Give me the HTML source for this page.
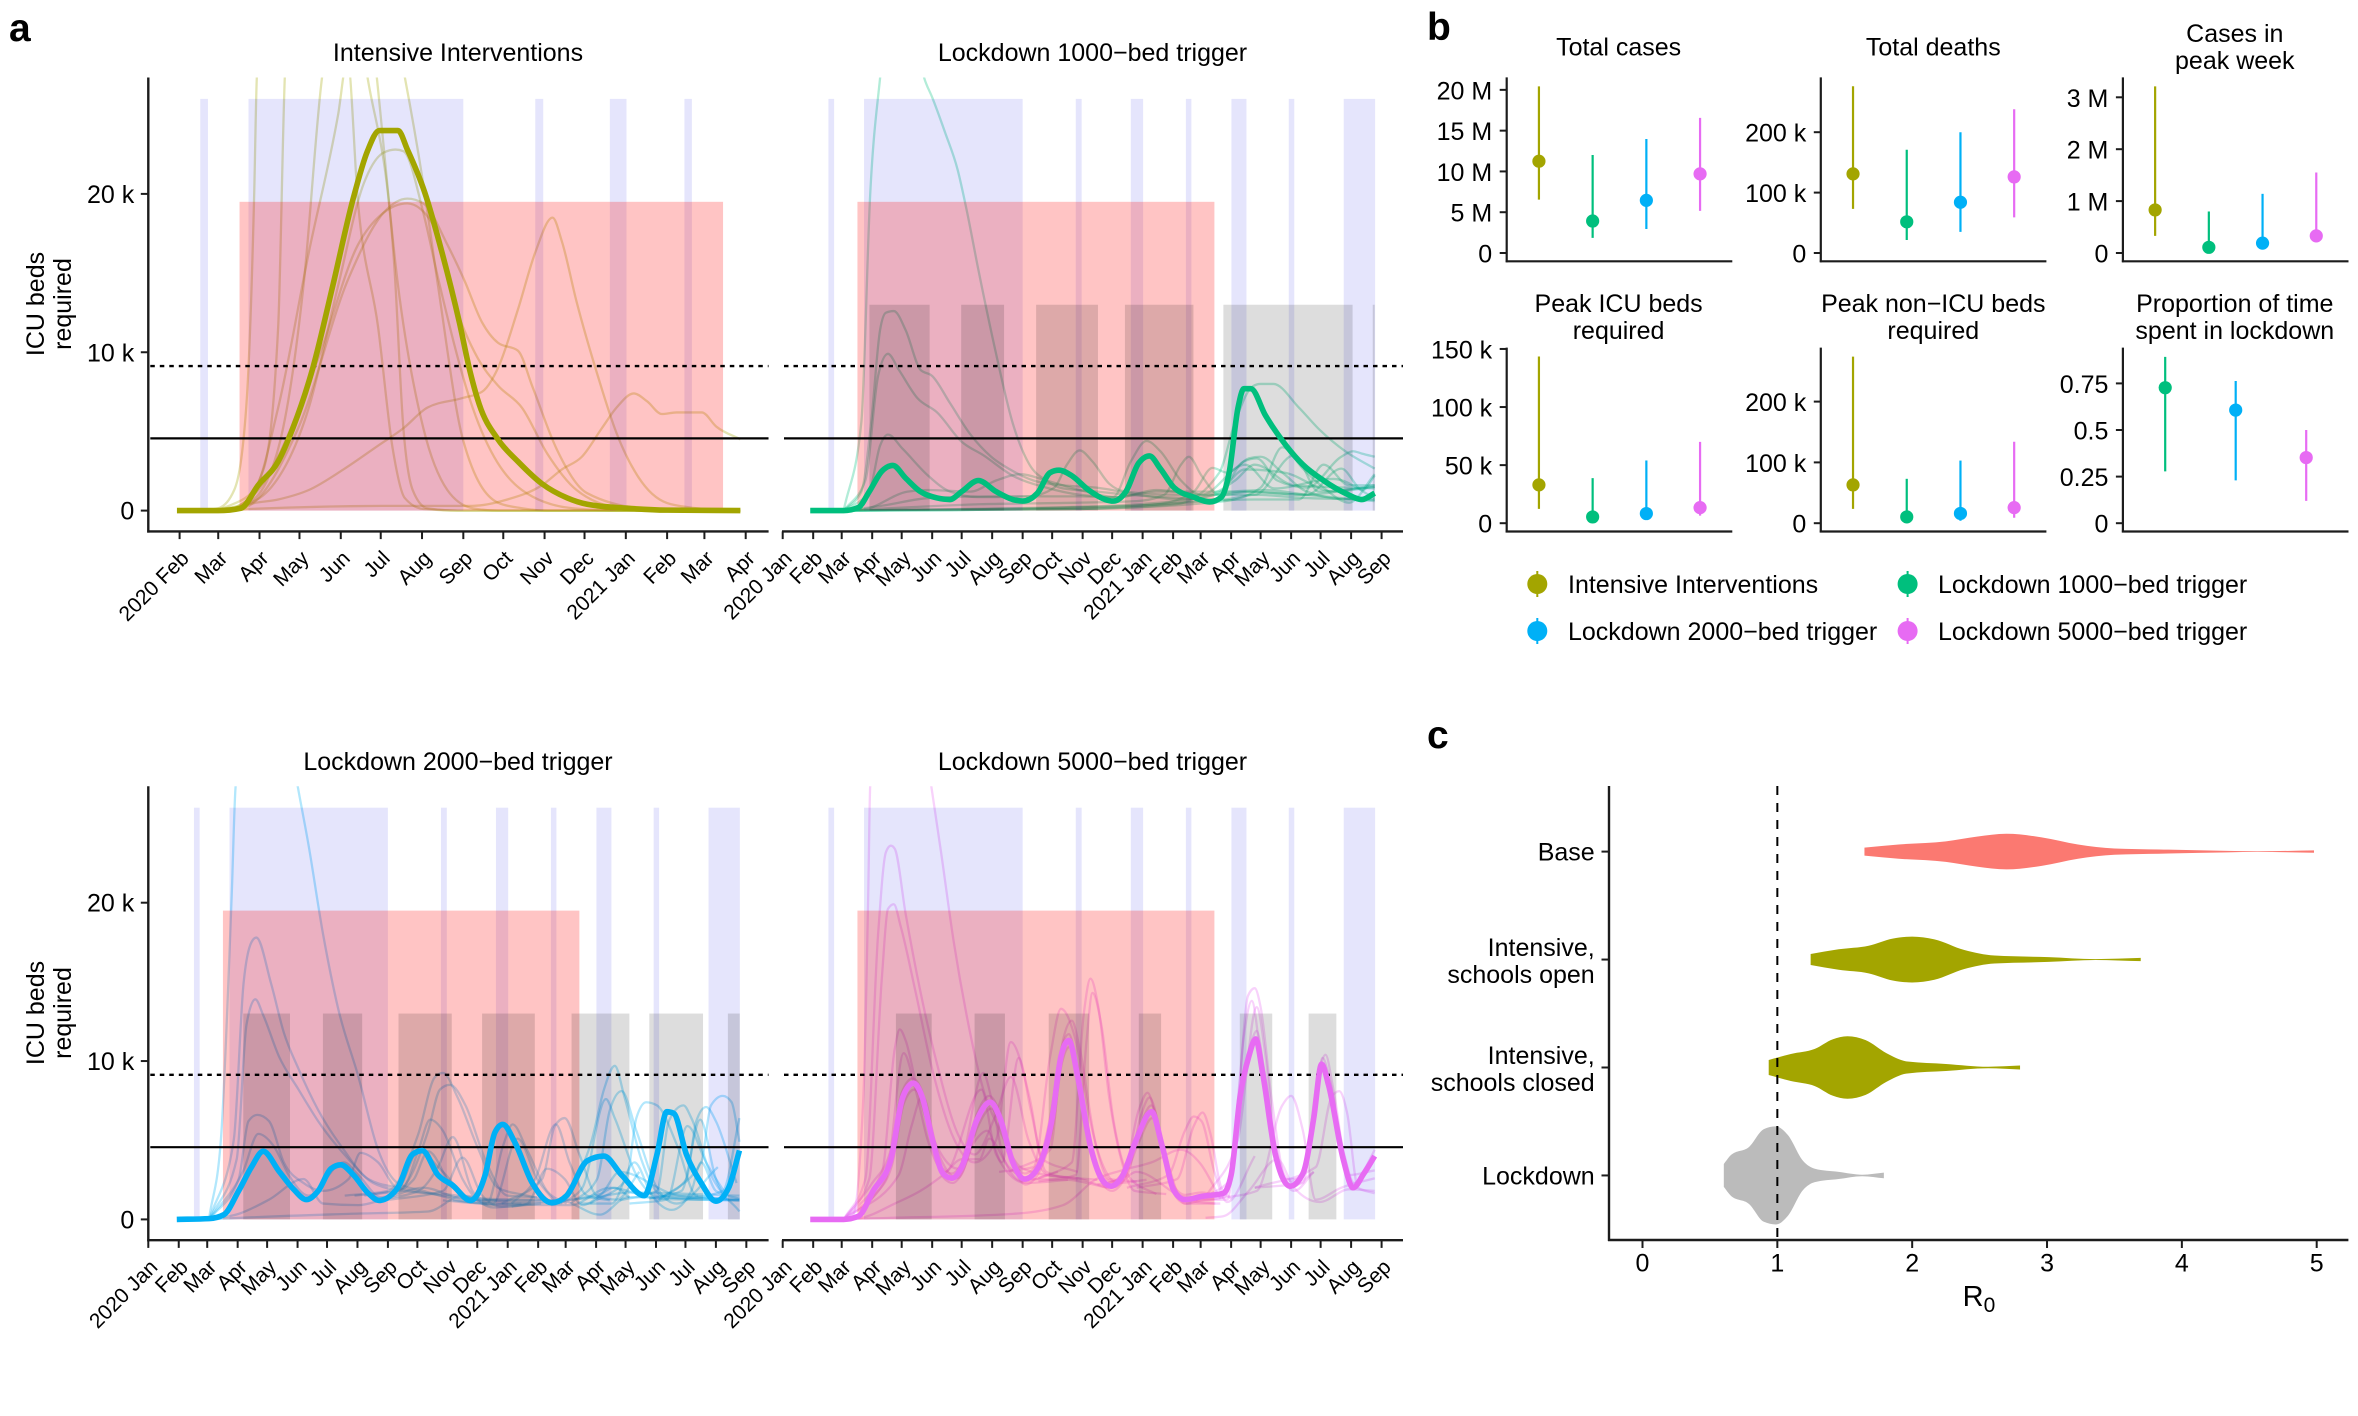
<!DOCTYPE html>
<html lang="en">
<head>
<meta charset="utf-8">
<title>ICU beds required under intervention scenarios</title>
<style>
html,body{margin:0;padding:0;background:#fff;}
svg{display:block;font-family:"Liberation Sans",Arial,sans-serif;fill:#000;}
.t{font-size:25px;text-anchor:middle;}
.lab{font-size:25px;}
.letter{font-size:39px;font-weight:bold;}
</style>
</head>
<body>
<svg id="figure" xmlns="http://www.w3.org/2000/svg" width="2358" height="1416" viewBox="0 0 2358 1416">
<rect x="0" y="0" width="2358" height="1416" fill="#fff"/>
<g id="layer"></g>
<text class="letter" x="9" y="41">a</text>
<text class="letter" x="1427" y="40">b</text>
<text class="letter" x="1427" y="748">c</text>
<text class="t" x="458" y="61">Intensive Interventions</text>
<text class="t" x="1092.5" y="61">Lockdown 1000−bed trigger</text>
<text class="t" x="458" y="770">Lockdown 2000−bed trigger</text>
<text class="t" x="1092.5" y="770">Lockdown 5000−bed trigger</text>
<text class="t" transform="translate(44,304) rotate(-90)"><tspan x="0" y="0">ICU beds</tspan><tspan x="0" y="27">required</tspan></text>
<text class="t" transform="translate(44,1013) rotate(-90)"><tspan x="0" y="0">ICU beds</tspan><tspan x="0" y="27">required</tspan></text>
<text class="t" x="1618.6" y="55.5">Total cases</text>
<text class="t" x="1933.3" y="55.5">Total deaths</text>
<text class="t" y="42"><tspan x="2234.8">Cases in</tspan><tspan x="2234.8" dy="27">peak week</tspan></text>
<text class="t" y="312"><tspan x="1618.6">Peak ICU beds</tspan><tspan x="1618.6" dy="27">required</tspan></text>
<text class="t" y="312"><tspan x="1933.3">Peak non−ICU beds</tspan><tspan x="1933.3" dy="27">required</tspan></text>
<text class="t" y="312"><tspan x="2234.8">Proportion of time</tspan><tspan x="2234.8" dy="27">spent in lockdown</tspan></text>
<g>
<g><line x1="1537.3" x2="1537.3" y1="571" y2="597" stroke="#A3A500" stroke-width="2"/><circle cx="1537.3" cy="584" r="10" fill="#A3A500"/><text class="lab" x="1568" y="593">Intensive Interventions</text></g>
<g><line x1="1907.6" x2="1907.6" y1="571" y2="597" stroke="#00BF7D" stroke-width="2"/><circle cx="1907.6" cy="584" r="10" fill="#00BF7D"/><text class="lab" x="1938" y="593">Lockdown 1000−bed trigger</text></g>
<g><line x1="1537.3" x2="1537.3" y1="618" y2="644" stroke="#00B0F6" stroke-width="2"/><circle cx="1537.3" cy="631" r="10" fill="#00B0F6"/><text class="lab" x="1568" y="640">Lockdown 2000−bed trigger</text></g>
<g><line x1="1907.6" x2="1907.6" y1="618" y2="644" stroke="#E76BF3" stroke-width="2"/><circle cx="1907.6" cy="631" r="10" fill="#E76BF3"/><text class="lab" x="1938" y="640">Lockdown 5000−bed trigger</text></g>
</g>
<text x="1979" y="1306" text-anchor="middle" font-size="29">R<tspan font-size="21" dy="6">0</tspan></text>
</svg>
<script>
/* ---------- calendar ---------- */
const monthLengths = [31,29,31,30,31,30,31,31,30,31,30,31,31,28,31,30,31,30,31,31];
const monthLabels = ["2020 Jan","Feb","Mar","Apr","May","Jun","Jul","Aug","Sep","Oct","Nov","Dec","2021 Jan","Feb","Mar","Apr","May","Jun","Jul","Aug","Sep"];
const firstPanelLabels = ["","2020 Feb","Mar","Apr","May","Jun","Jul","Aug","Sep","Oct","Nov","Dec","2021 Jan","Feb","Mar","Apr"];
const bedTicks = [0,10,20];
const bedTickLabels = ["0","10 k","20 k"];
const surgeCapacity = 9.13;
const baseCapacity = 4.56;

/* ---------- intervention periods (days since 2020-01-01) ---------- */
const schoolStarts = [46.5,82.7,298,354,410,456.3,514.6,570.5];
const schoolEnds = [52.3,244,304,366.5,415.6,471.6,520.2,602.4];
const schoolHeight = 26;
const restrictStart = [76];
const restrictEnd = [439];
const restrictHeight = 19.5;
const lockdownHeight = 13;
const lock1000Starts = [88.2,181.5,257.7,348,448.1,600];
const lock1000Ends = [149.4,225.1,320.6,417.7,579.5,602];
const lock2000Starts = [96.7,177.8,254.8,339.9,431,510.2,590.2];
const lock2000Ends = [144.3,217.8,309,393.6,489.9,564.9,602.3];
const lock5000Starts = [115.1,195.1,270.5,362.1,464.8,534.8];
const lock5000Ends = [151.5,226,311.6,384.8,497.8,563];

/* ---------- Intensive Interventions: [day, thousand beds] ---------- */
const iiMedian = [[29,0],[60,0],[77,.15],[90,1.6],[105,3.1],[116,5.2],[131,9],[146,14.2],[161,19.6],[172,22.7],[181,24],[195,24],[202,22.8],[215,20.1],[228,16.3],[241,11.9],[249,8.8],[256,6.7],[270,4.5],[285,3.1],[303,1.7],[322,.8],[337,.4],[367,.15],[397,.03],[452,0]];
const iiRuns = [
 [[45,0],[60,.15],[72,1.3],[81,6.5],[87,20],[89,27.4],[110,45],[140,40],[172,27.4],[192,15.7],[199,5.2],[206,1.3],[217,.15],[240,0],[452,0]],
 [[50,0],[75,.3],[94,2.6],[105,11.6],[110,27.4],[130,48],[160,42],[179,27.4],[195,14.2],[214,5.2],[232,1.3],[251,.15],[270,0],[452,0]],
 [[60,0],[83,.5],[105,3.9],[124,14.2],[138,27.4],[170,38],[200,27.4],[214,20.6],[225,14.2],[244,4.4],[270,.5],[288,.15],[307,0],[452,0]],
 [[60,0],[87,1.3],[105,6.5],[128,16.3],[150,25],[157,28.5],[165,19.4],[180,11.6],[191,3.9],[200,.8],[214,.1],[240,0],[452,0]],
 [[70,0],[98,1.3],[128,6.5],[150,14.2],[169,20.6],[184,22.6],[193,22.8],[199,22.7],[214,18.8],[225,14.7],[251,6.5],[288,1.3],[326,.15],[363,0],[452,0]],
 [[70,0],[83,.3],[120,5.2],[158,14.7],[184,18.8],[202,19.7],[214,19.4],[232,16.8],[245,14.5],[258,11.9],[270,10.6],[285,10.1],[296,7.8],[314,3.9],[337,1.1],[382,.1],[419,0],[452,0]],
 [[70,0],[90,1.3],[135,9.6],[165,16.8],[184,18.8],[202,19.4],[221,18.1],[236,13.4],[255,9.6],[270,7.9],[288,6.5],[307,3.6],[329,1.3],[363,.15],[400,0],[452,0]],
 [[70,0],[83,.4],[105,.7],[128,1.3],[154,2.6],[180,4.1],[199,5.2],[217,6.5],[243,7.1],[258,7.5],[270,9],[285,12.7],[298,16.3],[311,18.5],[318,17],[329,13.2],[345,8.5],[359,4.9],[378,1.8],[400,.4],[438,.03],[452,0]],
 [[70,0],[83,.1],[195,.3],[251,.3],[277,.7],[303,1.6],[318,2.6],[333,3.4],[348,5.2],[359,6.5],[372,7.4],[382,6.9],[393,6.1],[404,6.2],[423,6.2],[434,5.3],[452,4.5]]
];

/* ---------- Lockdown 1000-bed trigger ---------- */
const ld1000Median = [[28,0],[62,0],[77,.2],[88,1.2],[101,2.5],[112,2.85],[125,2.05],[140,1.2],[157,.8],[170,.7],[182,1.2],[199,1.9],[217,1.2],[234,.7],[244,.6],[259,1.1],[272,2.4],[281,2.55],[294,2.2],[311,1.3],[328,.7],[336,.6],[349,1.2],[362,3],[373,3.45],[384,2.65],[398,1.45],[418,.85],[434,.55],[446,.85],[454,2.4],[463,6.5],[469,7.7],[476,7.7],[491,6],[512,4.1],[529,2.9],[550,1.9],[572,1.1],[589,.7],[602,1.1]];
const ld1000Runs = [
 [[62,0],[80,5.6],[89,20],[99,27.3],[122,35],[144,27.3],[152,26.1],[165,23.9],[178,21.5],[187,19],[199,15.2],[217,9.9],[234,5.5],[251,2.9],[268,1.9],[285,1.4],[319,1.2],[362,.95],[405,.8],[448,.7],[480,1],[530,.8],[602,.7]],
 [[62,0],[80,1.2],[90,5.6],[99,11.4],[105,12.5],[113,12.6],[125,11.4],[140,8.9],[152,8.5],[170,6.8],[191,4.8],[212,3.4],[234,2.5],[255,1.9],[285,1.6],[319,1.45],[362,1],[405,.7],[440,1],[470,2.6],[510,2.4],[560,1.2],[602,1.5]],
 [[62,0],[84,1.9],[97,8.5],[107,9.9],[118,8.9],[137,7.1],[157,6.2],[182,4.35],[204,3.5],[234,2.2],[268,1.45],[302,1],[341,.85],[380,1.3],[430,1],[460,1.9],[480,2.9],[520,1.6],[602,1.4]],
 [[62,0],[88,1.2],[99,4.1],[107,4.8],[122,3.9],[148,2.2],[170,1.2],[199,.85],[250,.9],[276,1.45],[289,2.9],[302,3.8],[315,3.1],[332,1.7],[349,1.2],[400,1],[448,1],[475,1.2],[530,1],[602,1.6]],
 [[62,0],[100,.3],[150,.8],[210,.9],[300,.9],[336,.85],[354,3.1],[370,4.4],[384,3.75],[405,1.9],[426,1],[470,2.9],[500,1.4],[560,2],[602,.8]],
 [[62,0],[200,.4],[300,.5],[360,.6],[388,1],[405,2.9],[413,3.4],[426,2.2],[444,1],[480,1],[520,3.5],[545,1.2],[602,1.5]],
 [[62,0],[300,.2],[380,.4],[418,1.2],[437,2.7],[452,2.4],[474,3.3],[486,3.4],[508,2.4],[533,1.2],[576,.7],[602,.7]],
 [[62,0],[300,.1],[400,.4],[444,2.4],[460,5.6],[478,7.85],[486,8],[499,8],[525,6.5],[546,5.1],[572,3.75],[602,2.65]],
 [[62,0],[300,.1],[450,.6],[486,1.45],[508,4],[529,2.65],[550,1.45],[576,.5],[602,2.3]],
 [[62,0],[300,.1],[480,.7],[525,.7],[550,2.9],[576,1.6],[602,1.6]],
 [[62,0],[84,.1],[127,1.2],[148,1.3],[191,1.2],[217,1.9],[242,2.3],[268,1.9],[302,1.3],[341,.85],[380,1.2],[448,1.2],[490,1.3],[533,1],[602,.6]],
 [[62,0],[300,.2],[439,.7],[469,3.1],[482,3.3],[503,1.9],[533,1.45],[568,3.4],[580,3.75],[589,3.6],[602,3.4]],
 [[62,0],[330,.3],[400,.6],[470,1.2],[500,1.1],[533,1],[568,2.65],[590,1.3],[602,2.2]]
];

/* ---------- Lockdown 2000-bed trigger ---------- */
const ld2000Median = [[29,0],[62,.05],[77,.3],[92,1.8],[105,3.3],[117,4.3],[133,3.05],[148,1.9],[161,1.25],[173,1.8],[186,3.2],[196,3.45],[209,2.8],[224,1.65],[235,1.2],[254,2],[269,4.1],[279,4.35],[295,2.8],[310,2.15],[328,1.2],[343,2.8],[353,5.5],[361,6],[373,4.9],[391,2.3],[411,1.05],[426,1.5],[447,3.7],[464,4],[482,2.8],[505,1.5],[518,4.1],[528,6.8],[535,6.7],[548,4.1],[563,2.3],[578,1.15],[591,2],[602,4.35]];
const ld2000Runs = [
 [[62,.1],[74,5.1],[85,20.6],[89,27.4],[123,38],[152,27.4],[163,23.7],[178,18],[193,13.4],[214,9],[234,4.4],[254,2.3],[280,1.8],[340,1],[430,.9],[470,2],[520,1.3],[602,1.2]],
 [[62,0],[87,5],[97,14.9],[105,17.5],[110,17.8],[125,14.9],[138,11.8],[153,9.5],[173,6.9],[199,4.4],[224,2.55],[254,2],[300,1.5],[380,1],[460,1.6],[480,3],[540,1.5],[602,1.2]],
 [[62,0],[90,3.8],[100,12.3],[109,13.9],[117,12.9],[133,10.3],[153,8.2],[173,6.2],[204,3.8],[229,2.3],[259,1.8],[300,1.6],[380,1.1],[455,1.4],[490,1.7],[602,1.5]],
 [[62,0],[92,2.55],[102,6.2],[111,6.6],[123,6.2],[138,3.6],[158,2.3],[178,1.8],[204,2.55],[216,4.2],[234,3.6],[254,2],[275,4.3],[300,3],[330,1.2],[400,1.2]],
 [[62,0],[97,3.1],[112,5.4],[128,4.6],[143,2.8],[163,1.5],[199,3.6],[214,2.8],[237,1.4],[270,2.5],[285,4.3],[310,2],[345,1]],
 [[62,0],[92,.35],[123,1.25],[158,2.55],[178,1],[214,.9],[239,1.25],[280,2],[320,1.3],[355,1.2]],
 [[62,0],[77,.05],[204,.35],[285,.5],[320,1.5],[345,1.3],[420,1.2],[460,.3],[488,1.4],[602,1.3]],
 [[200,1.5],[244,1.8],[275,5.4],[292,9],[300,9.25],[315,7.7],[335,4.6],[356,2],[386,1.5],[420,1]],
 [[210,1.5],[254,1.8],[285,5.6],[297,8.2],[307,8.5],[323,7.2],[343,3.8],[366,1.5],[396,1.4]],
 [[220,1.5],[259,2],[275,4.35],[287,6.3],[300,5.6],[320,2.55],[345,.9],[380,1]],
 [[230,1.2],[275,1.8],[295,3.3],[310,5.2],[330,1.8],[351,.75],[390,1]],
 [[240,1.2],[300,1.8],[320,3.9],[340,1.5],[360,.8],[400,1]],
 [[300,1.2],[345,1],[361,4.6],[371,6],[386,4.35],[406,1.8],[426,1]],
 [[310,1.2],[351,1],[376,5.1],[396,2.55],[416,1]],
 [[360,1],[401,2.55],[414,5.9],[424,6.4],[439,4.1],[457,1.5],[477,1.25],[500,3]],
 [[370,1],[394,2.55],[415,6],[429,3.6],[447,1.5],[470,1.2]],
 [[370,.8],[386,1],[406,3.2],[424,2.55],[442,.9],[475,2],[490,1.4]],
 [[420,1],[452,5.1],[464,8.2],[475,9.7],[485,7.7],[502,3.8],[523,1.5],[545,1.3],[602,1.2]],
 [[420,1],[442,2],[466,7.6],[475,6.4],[497,2.8],[518,1.5],[560,1.5]],
 [[430,1],[457,2.55],[470,6.9],[482,8.1],[497,5.6],[518,2],[538,1],[580,3.3]],
 [[450,1],[487,2.55],[497,6.4],[507,7.4],[518,7.2],[539,4.6],[558,1.5],[585,1.3]],
 [[480,1.2],[518,1.8],[530,6.2],[545,7.2],[553,6.4],[573,2.8],[589,1.25]],
 [[490,1],[528,1.25],[549,5.9],[568,3.6],[589,1.5]],
 [[520,1.3],[548,2.55],[558,6.2],[568,7.1],[578,6.2],[599,2.3]],
 [[520,1.2],[563,3.6],[573,7.2],[585,7.8],[594,7.4],[602,4.9]],
 [[510,1.3],[543,1.8],[562,6.3],[578,2.55],[602,.5]],
 [[550,1.3],[585,1.8],[602,6.4]],
 [[440,1],[472,1],[495,3.6],[513,1.5],[533,.6],[553,1.8],[563,3.6],[578,1.8],[602,1.3]]
];

/* ---------- Lockdown 5000-bed trigger ---------- */
const ld5000Median = [[28,0],[62,0],[77,.2],[92,1.8],[110,3.8],[122,7.7],[133,8.6],[142,7.7],[152,5.1],[163,2.9],[172,2.6],[182,3.3],[197,6.2],[211,7.4],[221,6.4],[234,3.6],[246,2.55],[259,3.2],[274,6.4],[283,10.3],[291,11.3],[300,9],[313,4.6],[326,2.4],[334,2.1],[345,2.7],[360,5.1],[375,6.8],[386,4.6],[398,1.8],[409,1.25],[426,1.45],[448,1.65],[456,2.8],[465,7.7],[474,10.3],[481,11.4],[488,9.25],[501,4.1],[516,2.1],[529,2.9],[540,6.4],[548,9.8],[555,8.5],[570,3.8],[580,2],[591,2.9],[602,4]];
const ld5000Runs = [
 [[62,0],[71,.2],[82,7.7],[87,20.6],[89,27.4],[118,40],[151,27.4],[161,23.2],[174,17.5],[187,12.9],[204,8.2],[221,5.6],[242,3.3],[268,2.8],[300,2.6],[335,2],[360,3],[410,1.4],[440,1.3]],
 [[62,0],[84,2.55],[97,18],[105,23.2],[110,23.6],[114,23.4],[125,19.3],[140,14.4],[157,9.8],[178,5.4],[195,4.1],[216,6.5],[232,9],[250,5],[270,2.8],[320,2.5]],
 [[62,0],[88,2.55],[101,15.4],[107,19.6],[113,19.9],[120,18.5],[135,14.4],[152,9.5],[174,5.1],[195,3.6],[217,5],[232,11.2],[251,7.7],[264,3.8],[300,3]],
 [[62,0],[101,3],[114,10.8],[119,12],[125,11.3],[137,8.2],[157,4.6],[178,3.2],[204,9.25],[212,7.7],[225,3.8],[244,2.4],[280,3]],
 [[62,0],[105,2.55],[123,10.5],[135,8.2],[148,4.9],[165,3],[202,8.2],[217,4.1],[247,2.3],[290,2.5]],
 [[62,0],[118,2.8],[131,5.9],[142,7.8],[157,4.4],[178,2.6],[195,4.9],[208,5.6],[223,3.6],[240,10.2],[252,7],[268,3],[300,2.5]],
 [[62,0],[80,.1],[114,1],[140,1.8],[165,2.9],[182,3.8],[200,3.8],[210,5.1],[230,3.3],[251,2.55],[290,2.5],[330,2]],
 [[62,0],[84,.05],[234,.35],[285,.9],[319,2.55],[345,3.1],[375,3.6],[405,4.4],[425,3.5],[445,1.3]],
 [[62,0],[90,2.2],[110,4.4],[121,8],[132,8.9],[141,8.2],[151,5.5],[163,3.2],[172,2.9],[183,3.7],[197,6.6],[210,7.8],[221,6.7],[233,4],[246,2.9],[259,3.5],[273,6.8],[283,10.7],[291,11.7],[300,9.4],[313,5],[326,2.7],[335,2.4],[346,3],[361,5.5],[375,7.2],[386,5],[398,2.1],[409,1.55],[426,1.7],[448,1.4]],
 [[62,0],[93,1.5],[111,3.4],[123,7.3],[134,8.2],[143,7.3],[153,4.7],[164,2.6],[173,2.3],[183,3],[198,5.8],[212,7],[222,6],[235,3.3],[247,2.2],[260,2.9],[275,6],[284,9.9],[292,10.9],[301,8.6],[314,4.2],[327,2.1],[335,1.8],[346,2.4],[361,4.7],[376,6.4],[387,4.2],[399,1.5],[410,1],[426,1.2],[449,1.4],[457,3],[466,8],[475,10.8],[482,11.9],[489,9.7],[502,4.5],[517,2.4],[530,3.2],[541,6.8],[549,10.2],[556,8.9],[571,4.1],[581,2.3],[592,3.2],[602,4.4]],
 [[220,3],[255,3.3],[272,10.3],[283,13.3],[298,11.3],[315,5.6],[332,2.55],[360,2.4]],
 [[230,3],[272,4.4],[285,11.3],[294,12.55],[302,10.8],[319,4.6],[341,2.3],[370,2.5]],
 [[260,2.6],[294,3.6],[306,12.9],[313,15.2],[321,13.4],[332,7.7],[345,3.6],[358,1.8],[390,1.6]],
 [[260,2.4],[298,2.8],[309,11.3],[315,14.3],[324,12.3],[336,6.4],[354,2.55],[380,1.6]],
 [[320,2.2],[345,2.55],[362,6.9],[371,8],[384,5.1],[405,1.25],[440,1]],
 [[325,2.2],[350,2.8],[364,6.5],[373,7.7],[388,4.35],[409,1],[445,1]],
 [[350,2],[392,2.8],[409,5.6],[418,6.5],[426,6.2],[439,3],[452,1.1],[480,4]],
 [[360,2],[401,2.55],[418,5.9],[427,6.75],[435,5.4],[446,2],[456,1.3]],
 [[410,1.2],[452,1.25],[465,9],[473,14.1],[480,14.6],[486,13.4],[497,7.7],[512,2.55],[527,2.55]],
 [[420,1.2],[456,2.55],[469,11.6],[477,13.8],[486,10.3],[499,4.6],[516,2],[540,3]],
 [[430,1.4],[463,5.1],[482,13.4],[491,10.3],[503,3.8],[520,1.8],[540,3]],
 [[440,1.3],[482,1.8],[508,7.2],[517,7.8],[529,5.6],[542,1.25],[568,2],[602,2.6]],
 [[480,2],[529,2.3],[542,8.2],[552,10.4],[560,8.2],[576,2.8],[602,3.1]],
 [[480,2],[542,3.3],[558,7.7],[566,8.1],[574,6.7],[585,2],[602,1.65]],
 [[430,.1],[448,.2],[474,1.8],[503,3.8],[520,2],[546,1.1],[576,1.9],[602,1.8]]
];

/* ---------- Panel b: summary statistics (II, 1000, 2000, 5000) ---------- */
const scenarioColors = ["#A3A500","#00BF7D","#00B0F6","#E76BF3"];
const casesMedian = [11.25,3.92,6.45,9.7];
const casesLow = [6.55,1.86,2.94,5.16];
const casesHigh = [20.43,12.02,13.98,16.56];
const casesTicks = [0,5,10,15,20];
const casesTickLabels = ["0","5 M","10 M","15 M","20 M"];
const deathsMedian = [131,51.6,84,126];
const deathsLow = [73,21.6,35,59];
const deathsHigh = [276,171,200,238];
const deathsTicks = [0,100,200];
const deathsTickLabels = ["0","100 k","200 k"];
const weekMedian = [.83,.11,.19,.33];
const weekLow = [.33,.06,.09,.21];
const weekHigh = [3.21,.8,1.14,1.55];
const weekTicks = [0,1,2,3];
const weekTickLabels = ["0","1 M","2 M","3 M"];
const icuMedian = [33,5.4,8.3,13.4];
const icuLow = [12.3,1.8,3,6.5];
const icuHigh = [143.5,38.8,54,70];
const icuTicks = [0,50,100,150];
const icuTickLabels = ["0","50 k","100 k","150 k"];
const nonIcuMedian = [63,10.4,16,25.6];
const nonIcuLow = [23.5,2,4,9];
const nonIcuHigh = [274,73,103,134];
const nonIcuTicks = [0,100,200];
const nonIcuTickLabels = ["0","100 k","200 k"];
const lockdownShareMedian = [.727,.607,.352];
const lockdownShareLow = [.278,.23,.12];
const lockdownShareHigh = [.892,.763,.5];
const lockdownShareTicks = [0,.25,.5,.75];
const lockdownShareTickLabels = ["0","0.25","0.5","0.75"];

/* ---------- Panel c: R0 violins ---------- */
const violinLabels = [["Base"],["Intensive,","schools open"],["Intensive,","schools closed"],["Lockdown"]];
const violinColors = ["#FB7971","#A3A500","#A3A500","#BBBBBB"];
const baseR0 = [1.646,1.9,2.25,2.48,2.7,2.96,3.23,3.5,3.9,4.34,4.56,4.98];
const baseDensity = [.037,.066,.095,.139,.165,.132,.066,.029,.018,.007,.003,.011];
const openR0 = [1.247,1.455,1.677,1.855,2,2.165,2.387,2.61,3.01,3.36,3.695];
const openDensity = [.051,.095,.128,.194,.212,.187,.088,.037,.022,.004,.015];
const closedR0 = [.936,1.1,1.278,1.41,1.52,1.655,1.81,1.965,2.25,2.564,2.8];
const closedDensity = [.07,.125,.172,.26,.289,.253,.132,.055,.033,.007,.018];
const lockdownR0 = [.603,.657,.79,.9,.99,1.078,1.19,1.278,1.455,1.63,1.79];
const lockdownDensity = [.106,.19,.264,.429,.454,.374,.136,.062,.033,.007,.026];
const r0Ticks = [0,1,2,3,4,5];
const r0Reference = [1];

/* ---------- helpers ---------- */
const NS = "http://www.w3.org/2000/svg";
const layer = document.getElementById("layer");
function mk(tag, attrs, parent){
  const node = document.createElementNS(NS, tag);
  for (const key in attrs) node.setAttribute(key, attrs[key]);
  (parent || layer).appendChild(node);
  return node;
}
function monotonePath(points, xf, yf){
  const xs = points.map(p => xf(p[0]));
  const ys = points.map(p => yf(p[1]));
  const n = xs.length;
  let d = "M" + xs[0].toFixed(2) + " " + ys[0].toFixed(2);
  if (n < 2) return d;
  const sec = [];
  for (let i = 0; i < n - 1; i++) sec.push((ys[i+1]-ys[i]) / ((xs[i+1]-xs[i]) || 1e-6));
  const tan = [sec[0]];
  for (let i = 1; i < n - 1; i++) {
    if (sec[i-1] * sec[i] <= 0) { tan.push(0); continue; }
    const h0 = xs[i]-xs[i-1], h1 = xs[i+1]-xs[i];
    const p = (sec[i-1]*h1 + sec[i]*h0) / (h0+h1);
    tan.push(Math.sign(sec[i]) * Math.min(2*Math.abs(sec[i-1]), 2*Math.abs(sec[i]), Math.abs(p)));
  }
  tan.push(sec[n-2]);
  for (let i = 0; i < n - 1; i++) {
    const h = (xs[i+1]-xs[i]) / 3;
    d += "C" + (xs[i]+h).toFixed(2) + " " + (ys[i]+tan[i]*h).toFixed(2) + " " +
         (xs[i+1]-h).toFixed(2) + " " + (ys[i+1]-tan[i+1]*h).toFixed(2) + " " +
         xs[i+1].toFixed(2) + " " + ys[i+1].toFixed(2);
  }
  return d;
}
const AXIS = "#1c1c1c";
const monthStarts = [0];
monthLengths.forEach(len => monthStarts.push(monthStarts[monthStarts.length-1] + len));

function drawBedPanel(opt){
  const toX = day => opt.x0 + (day - opt.d0) * opt.k;
  const toY = v => opt.zeroY - v * 15.835;
  const clipId = "clip-" + opt.key;
  const defs = mk("defs", {});
  const cp = mk("clipPath", {id: clipId}, defs);
  mk("rect", {x: opt.left, y: opt.zeroY - 433.1, width: opt.right - opt.left, height: 453.9}, cp);
  const g = mk("g", {"clip-path": "url(#" + clipId + ")"});
  
  
  opt.runs.forEach(run => {
    const p = mk("path", {d: monotonePath(run, toX, toY), fill: "none", stroke: opt.color, "stroke-opacity": 0.3, "stroke-width": 2.3, "stroke-linejoin": "round"}, g);
    
    
  });
  opt.schoolS.forEach((s, i) => {
    const r = mk("rect", {x: toX(s), y: toY(schoolHeight), width: toX(opt.schoolE[i]) - toX(s), height: toY(0) - toY(schoolHeight), fill: "rgba(0,0,225,0.1)"}, g);
    
    
  });
  restrictStart.forEach((s, i) => {
    const r = mk("rect", {x: toX(s), y: toY(restrictHeight), width: toX(restrictEnd[i]) - toX(s), height: toY(0) - toY(restrictHeight), fill: "rgba(255,0,0,0.23)"}, g);
    
    
  });
  opt.lockS.forEach((s, i) => {
    const r = mk("rect", {x: toX(s), y: toY(lockdownHeight), width: toX(opt.lockE[i]) - toX(s), height: toY(0) - toY(lockdownHeight), fill: "rgba(0,0,0,0.133)"}, g);
    
    
  });
  const dotted = mk("line", {x1: opt.left + 2, x2: opt.right, y1: toY(surgeCapacity), y2: toY(surgeCapacity), stroke: "#000", "stroke-width": 2.4, "stroke-dasharray": "4.5 5"}, g);
  
  
  const solid = mk("line", {x1: opt.left + 2, x2: opt.right, y1: toY(baseCapacity), y2: toY(baseCapacity), stroke: "#000", "stroke-width": 2.2}, g);
  
  
  const med = mk("path", {d: monotonePath(opt.median, toX, toY), fill: "none", stroke: opt.color, "stroke-width": 5.6, "stroke-linejoin": "round", "stroke-linecap": "butt"}, g);
  
  

  const xAxis = mk("line", {x1: opt.left - (opt.yAxis ? 1 : 0), x2: opt.right, y1: opt.zeroY + 20.8, y2: opt.zeroY + 20.8, stroke: AXIS, "stroke-width": 2.4});
  
  
  for (let m = opt.firstMonth; m <= opt.lastMonth; m++) {
    const tx = toX(monthStarts[m]);
    const tick = mk("line", {x1: tx, x2: tx, y1: opt.zeroY + 20.8, y2: opt.zeroY + 28.5, stroke: AXIS, "stroke-width": 2});
    
    
    const label = mk("text", {transform: "translate(" + (tx + 10.5).toFixed(1) + "," + (opt.zeroY + 49) + ") rotate(-45)", "text-anchor": "end", "font-size": 21});
    
    
    label.textContent = opt.labels[m];
  }
  if (opt.yAxis) {
    const yAxis = mk("line", {x1: opt.left, x2: opt.left, y1: opt.zeroY - 433.1, y2: opt.zeroY + 22, stroke: AXIS, "stroke-width": 2.4});
    
    
    bedTicks.forEach((v, i) => {
      const ty = toY(v);
      const tick = mk("line", {x1: opt.left - 7.5, x2: opt.left, y1: ty, y2: ty, stroke: AXIS, "stroke-width": 2});
      
      
      const label = mk("text", {x: opt.left - 14, y: ty + 9, "text-anchor": "end", "font-size": 25});
      
      
      label.textContent = bedTickLabels[i];
    });
  }
}

drawBedPanel({key:"ii", left:148.3, right:768.6, zeroY:510.6, x0:179.6, d0:31, k:1.332, yAxis:true, firstMonth:1, lastMonth:15, labels:firstPanelLabels, color:scenarioColors[0], median:iiMedian, runs:iiRuns, schoolS:schoolStarts.slice(0,5), schoolE:schoolEnds.slice(0,5), lockS:[], lockE:[]});
drawBedPanel({key:"ld1", left:782, right:1403, zeroY:510.6, x0:782.7, d0:0, k:.9834, yAxis:false, firstMonth:0, lastMonth:20, labels:monthLabels, color:scenarioColors[1], median:ld1000Median, runs:ld1000Runs, schoolS:schoolStarts, schoolE:schoolEnds, lockS:lock1000Starts, lockE:lock1000Ends});
drawBedPanel({key:"ld2", left:148.3, right:768.6, zeroY:1219.4, x0:148.3, d0:0, k:.982, yAxis:true, firstMonth:0, lastMonth:20, labels:monthLabels, color:scenarioColors[2], median:ld2000Median, runs:ld2000Runs, schoolS:schoolStarts, schoolE:schoolEnds, lockS:lock2000Starts, lockE:lock2000Ends});
drawBedPanel({key:"ld5", left:782, right:1403, zeroY:1219.4, x0:782.7, d0:0, k:.9834, yAxis:false, firstMonth:0, lastMonth:20, labels:monthLabels, color:scenarioColors[3], median:ld5000Median, runs:ld5000Runs, schoolS:schoolStarts, schoolE:schoolEnds, lockS:lock5000Starts, lockE:lock5000Ends});

/* ---------- panel b ---------- */
function drawStat(opt){
  const toY = v => opt.zeroY - v * opt.scale;
  const width = 225.6;
  const step = width / (opt.median.length - 1 + 1.2);
  const top = opt.zeroY - 175.6;
  const bottom = opt.zeroY + 8.3;
  const yAxis = mk("line", {x1: opt.left, x2: opt.left, y1: top, y2: bottom + 1, stroke: AXIS, "stroke-width": 2.2});
  
  
  const xAxis = mk("line", {x1: opt.left - 1, x2: opt.left + width, y1: bottom, y2: bottom, stroke: AXIS, "stroke-width": 2.2});
  
  
  opt.ticks.forEach((v, i) => {
    const ty = toY(v);
    const tick = mk("line", {x1: opt.left - 7, x2: opt.left, y1: ty, y2: ty, stroke: AXIS, "stroke-width": 2});
    
    
    const label = mk("text", {x: opt.left - 14.5, y: ty + 9.5, "text-anchor": "end", "font-size": 25});
    
    
    label.textContent = opt.tickLabels[i];
  });
  opt.median.forEach((v, i) => {
    const cx = opt.left + step * (0.6 + i);
    const color = opt.colors[i];
    const bar = mk("line", {x1: cx, x2: cx, y1: toY(opt.low[i]), y2: toY(opt.high[i]), stroke: color, "stroke-width": 2.2});
    
    
    const dot = mk("circle", {cx: cx, cy: toY(v), r: 6.6, fill: color});
    
    
  });
}
drawStat({left:1506.7, zeroY:253, scale:8.157, median:casesMedian, low:casesLow, high:casesHigh, ticks:casesTicks, tickLabels:casesTickLabels, colors:scenarioColors});
drawStat({left:1820.8, zeroY:253, scale:.604, median:deathsMedian, low:deathsLow, high:deathsHigh, ticks:deathsTicks, tickLabels:deathsTickLabels, colors:scenarioColors});
drawStat({left:2122.9, zeroY:253, scale:51.9, median:weekMedian, low:weekLow, high:weekHigh, ticks:weekTicks, tickLabels:weekTickLabels, colors:scenarioColors});
drawStat({left:1506.7, zeroY:523.2, scale:1.1616, median:icuMedian, low:icuLow, high:icuHigh, ticks:icuTicks, tickLabels:icuTickLabels, colors:scenarioColors});
drawStat({left:1820.8, zeroY:523.2, scale:.608, median:nonIcuMedian, low:nonIcuLow, high:nonIcuHigh, ticks:nonIcuTicks, tickLabels:nonIcuTickLabels, colors:scenarioColors});
drawStat({left:2122.9, zeroY:523.2, scale:186.4, median:lockdownShareMedian, low:lockdownShareLow, high:lockdownShareHigh, ticks:lockdownShareTicks, tickLabels:lockdownShareTickLabels, colors:scenarioColors.slice(1)});

/* ---------- panel c ---------- */
const rX = r => 1642.5 + r * 134.84;
const catY = i => 851.6 + i * 107.95;
const cAxisY = mk("line", {x1: 1609, x2: 1609, y1: 786, y2: 1241, stroke: AXIS, "stroke-width": 2.4});


const cAxisX = mk("line", {x1: 1608, x2: 2348.4, y1: 1240, y2: 1240, stroke: AXIS, "stroke-width": 2.4});


r0Ticks.forEach(v => {
  const tick = mk("line", {x1: rX(v), x2: rX(v), y1: 1240, y2: 1248, stroke: AXIS, "stroke-width": 2});
  
  
  const label = mk("text", {x: rX(v), y: 1271.5, "text-anchor": "middle", "font-size": 25});
  
  
  label.textContent = String(v);
});
const violinSets = [[baseR0,baseDensity],[openR0,openDensity],[closedR0,closedDensity],[lockdownR0,lockdownDensity]];
violinSets.forEach((set, i) => {
  const upper = set[0].map((r, j) => [r, set[1][j]]);
  const toUp = v => catY(i) - v * 108;
  const toDown = v => catY(i) + v * 108;
  const reversed = upper.slice().reverse();
  const forward = monotonePath(upper, rX, toUp);
  const backward = monotonePath(reversed, rX, toDown).replace(/^M/, "L");
  const shape = mk("path", {d: forward + backward + "Z", fill: violinColors[i], stroke: "none"});
  
  
  const tick = mk("line", {x1: 1601.5, x2: 1609, y1: catY(i), y2: catY(i), stroke: AXIS, "stroke-width": 2});
  
  
  const lines = violinLabels[i];
  lines.forEach((txt, k) => {
    const label = mk("text", {x: 1594.7, y: catY(i) + (lines.length === 1 ? 9 : (k === 0 ? -3.5 : 23.5)), "text-anchor": "end", "font-size": 25});
    
    
    label.textContent = txt;
  });
});
r0Reference.forEach(v => {
  const ref = mk("line", {x1: rX(v), x2: rX(v), y1: 786, y2: 1240, stroke: "#000", "stroke-width": 2, "stroke-dasharray": "9 8"});
  
  
});
</script>
</body>
</html>
